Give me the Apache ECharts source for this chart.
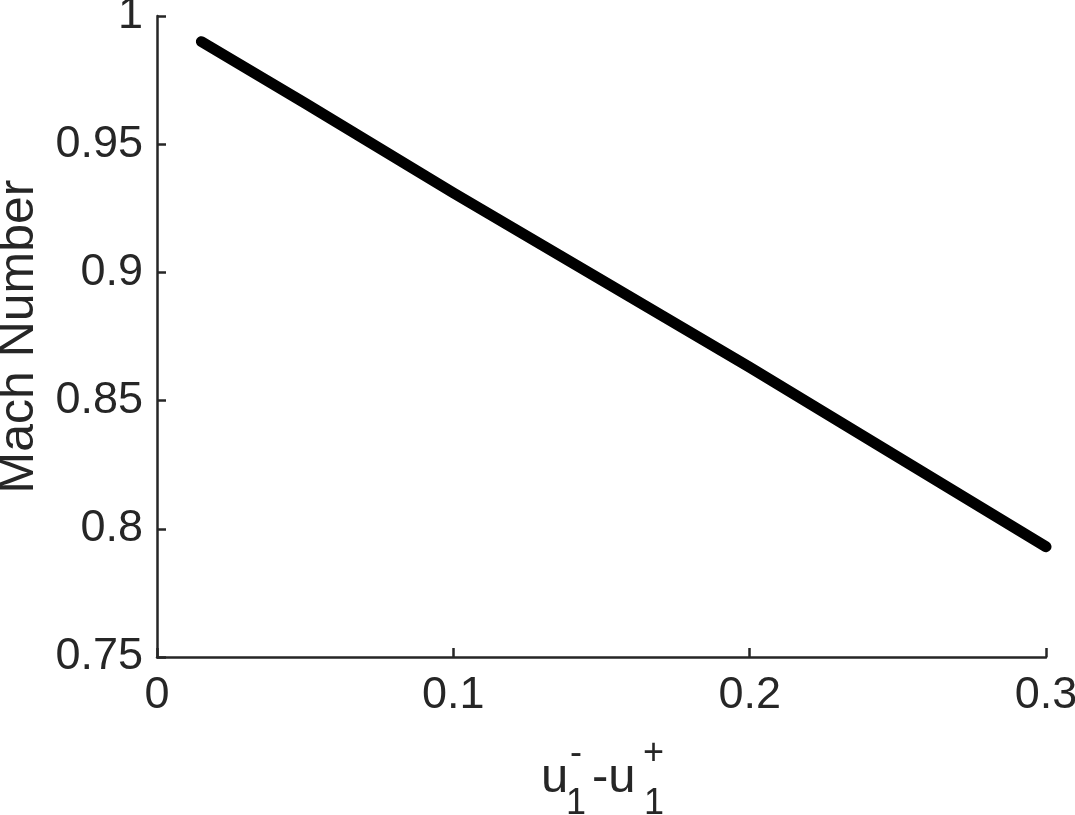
<!DOCTYPE html>
<html>
<head>
<meta charset="utf-8">
<script src="https://cdn.jsdelivr.net/npm/echarts@6/dist/echarts.min.js"></script>
<style>
html,body{margin:0;padding:0;background:#fff;}
#chart{width:1075px;height:815px;}
</style>
</head>
<body>
<div id="chart"></div>
<script>
// Data
var xValues = [0.015, 0.05, 0.1, 0.15, 0.2, 0.25, 0.3];
var machValues = [0.990, 0.966, 0.931, 0.897, 0.863, 0.828, 0.793];
var yAxisTitle = 'Mach Number';

var FONT = '"Liberation Sans", Arial, Helvetica, sans-serif';
var TXT = '#262626';

var chart = echarts.init(document.getElementById('chart'), null, {renderer: 'canvas'});
var pts = xValues.map(function (x, i) { return [x, machValues[i]]; });

chart.setOption({
  animation: false,
  backgroundColor: '#ffffff',
  grid: {left: 157, top: 16, right: 29, bottom: 158, containLabel: false, outerBoundsMode: 'none'},
  xAxis: {
    type: 'value', min: 0, max: 0.3, interval: 0.1,
    axisLine: {show: true, onZero: false, lineStyle: {color: TXT, width: 2.5}},
    axisTick: {show: true, inside: true, length: 9, lineStyle: {color: TXT, width: 2.5}},
    axisLabel: {color: TXT, fontSize: 45, fontFamily: FONT, margin: 16},
    splitLine: {show: false}
  },
  yAxis: {
    type: 'value', min: 0.75, max: 1, interval: 0.05,
    name: yAxisTitle, nameLocation: 'middle', nameGap: 112,
    nameTextStyle: {color: TXT, fontSize: 50, fontFamily: FONT},
    axisLine: {show: true, onZero: false, lineStyle: {color: TXT, width: 2.5}},
    axisTick: {show: true, inside: true, length: 9, lineStyle: {color: TXT, width: 2.5}},
    axisLabel: {color: TXT, fontSize: 45, fontFamily: FONT, margin: 14},
    splitLine: {show: false}
  },
  graphic: [
    {type: 'text', left: 541, top: 754, style: {text: 'u', font: '49px ' + FONT, fill: TXT}},
    {type: 'text', left: 566, top: 786, style: {text: '1', font: '36px ' + FONT, fill: TXT}},
    {type: 'text', left: 570, top: 736, style: {text: '-', font: '36px ' + FONT, fill: TXT}},
    {type: 'text', left: 592, top: 754, style: {text: '-u', font: '49px ' + FONT, fill: TXT}},
    {type: 'text', left: 643, top: 736, style: {text: '+', font: '36px ' + FONT, fill: TXT}},
    {type: 'text', left: 644, top: 786, style: {text: '1', font: '36px ' + FONT, fill: TXT}}
  ],
  series: [{
    type: 'line',
    data: pts,
    showSymbol: false,
    lineStyle: {color: '#000000', width: 11, cap: 'round', join: 'round'},
    itemStyle: {color: '#000000'},
    silent: true
  }]
});
</script>
</body>
</html>
